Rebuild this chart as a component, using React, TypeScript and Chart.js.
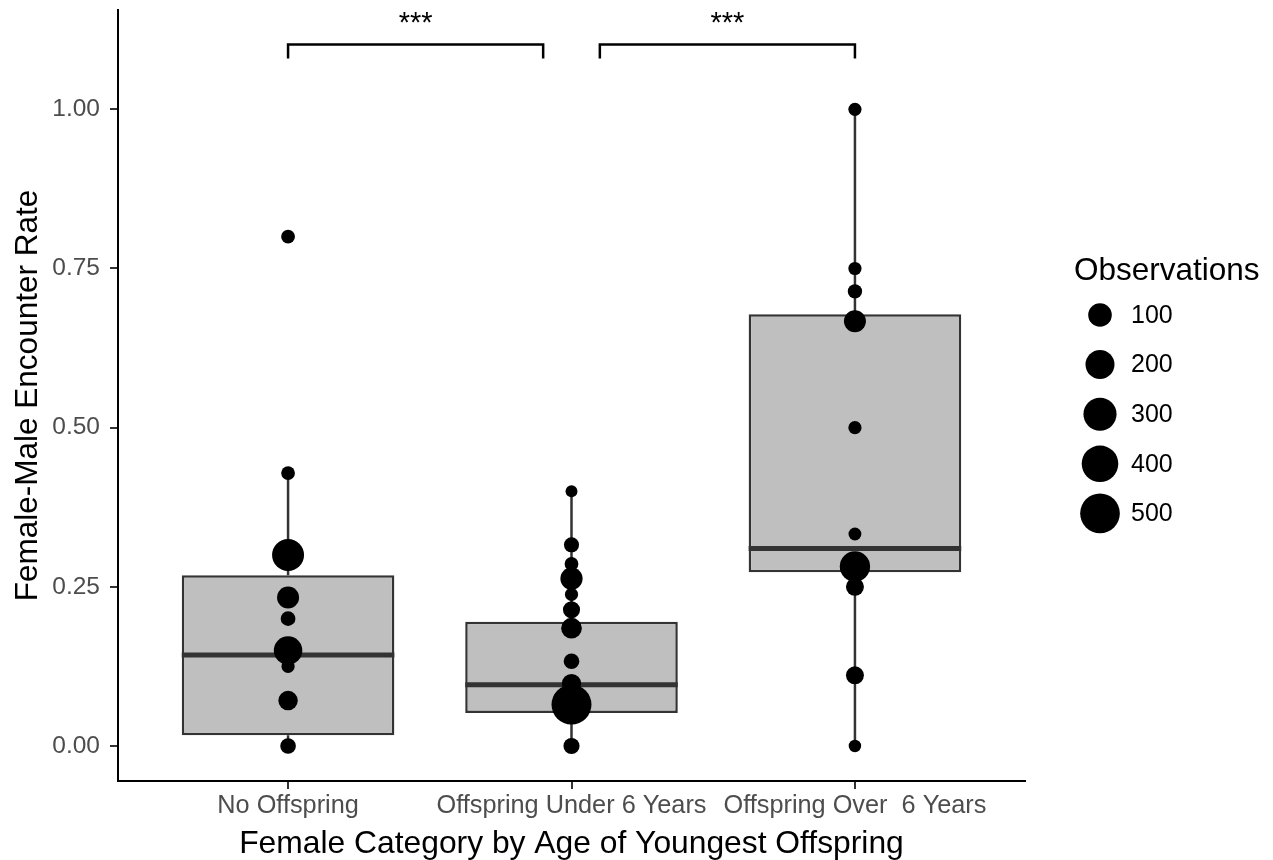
import React, { useEffect, useRef } from "react";
import { Chart, registerables } from "chart.js";

Chart.register(...registerables);

const FONT = '"Liberation Sans", Arial, Helvetica, sans-serif';

// ---- data ----
const categories = ["No Offspring", "Offspring Under 6 Years", "Offspring Over  6 Years"];
const yTicks = [0, 0.25, 0.5, 0.75, 1.0];

// box-plot statistics per category
const whiskerLow = [0, 0, 0];
const boxQ1 = [0.017, 0.052, 0.273];
const boxMedian = [0.143, 0.096, 0.31];
const boxQ3 = [0.268, 0.195, 0.678];
const whiskerHigh = [0.429, 0.4, 1.0];

// individual females: encounter rate and number of observations
const noOffspringRate = [0.8, 0.4286, 0.3, 0.2333, 0.2, 0.15, 0.125, 0.0714, 0];
const noOffspringObs = [6, 6, 270, 77, 10, 190, 4, 46, 15];
const under6Rate = [0.4, 0.316, 0.286, 0.263, 0.238, 0.214, 0.185, 0.133, 0.098, 0.065, 0];
const under6Obs = [1, 12, 6, 80, 4, 25, 60, 15, 45, 510, 18];
const over6Rate = [1.0, 0.75, 0.714, 0.667, 0.5, 0.333, 0.282, 0.25, 0.111, 0];
const over6Obs = [4, 4, 8, 77, 4, 3, 230, 32, 32, 2];

const legendBreaks = [100, 200, 300, 400, 500];

// significance brackets
const sigFrom = [1, 2.1];
const sigTo = [1.9, 3];
const sigLabels = ["***", "***"];
const sigBarY = 1.102;
const sigTickY = 1.08;
const sigLabelY = 1.121;

const radius = (n: number) => 5.3 + 0.65 * Math.sqrt(n);

export default function App() {
  const ref = useRef<HTMLCanvasElement | null>(null);

  useEffect(() => {
    if (!ref.current) return;

    const groups = [
      { rate: noOffspringRate, obs: noOffspringObs },
      { rate: under6Rate, obs: under6Obs },
      { rate: over6Rate, obs: over6Obs },
    ];
    const points: any[] = [];
    groups.forEach((g, gi) =>
      g.rate.forEach((v, i) => points.push({ x: gi + 1, y: v, r: radius(g.obs[i]) }))
    );

    const halfBox = 0.375;
    const medians: any[] = [];
    const whiskers: any[] = [];
    categories.forEach((_, i) => {
      const c = i + 1;
      medians.push({ x: c - halfBox, y: boxMedian[i] }, { x: c + halfBox, y: boxMedian[i] }, { x: c, y: null });
      whiskers.push({ x: c, y: whiskerLow[i] }, { x: c, y: boxQ1[i] }, { x: c, y: null });
      whiskers.push({ x: c, y: boxQ3[i] }, { x: c, y: whiskerHigh[i] }, { x: c, y: null });
    });
    const brackets: any[] = [];
    sigFrom.forEach((f, i) => {
      brackets.push(
        { x: f, y: sigTickY },
        { x: f, y: sigBarY },
        { x: sigTo[i], y: sigBarY },
        { x: sigTo[i], y: sigTickY },
        { x: sigTo[i], y: null }
      );
    });

    const overlay = {
      id: "overlay",
      afterDraw(chart: any) {
        const { ctx, chartArea, scales } = chart;
        const xs = scales.x;
        const ys = scales.y;
        ctx.save();
        ctx.fillStyle = "#000";
        ctx.font = `29px ${FONT}`;
        ctx.textAlign = "center";
        ctx.textBaseline = "alphabetic";
        sigFrom.forEach((f, i) => {
          ctx.fillText(sigLabels[i], xs.getPixelForValue((f + sigTo[i]) / 2), ys.getPixelForValue(sigLabelY));
        });
        // size legend
        ctx.textAlign = "left";
        ctx.textBaseline = "middle";
        ctx.font = `31.5px ${FONT}`;
        ctx.fillText("Observations", chartArea.right + 49, chartArea.top + 261);
        legendBreaks.forEach((b, i) => {
          const cy = chartArea.top + 305 + i * 49.6;
          ctx.beginPath();
          ctx.arc(chartArea.right + 75, cy, radius(b), 0, Math.PI * 2);
          ctx.fill();
          ctx.font = `25px ${FONT}`;
          ctx.fillText(String(b), chartArea.right + 106, cy + 1);
        });
        ctx.restore();
      },
    };

    const chart = new Chart(ref.current, {
      type: "bar",
      data: {
        datasets: [
          {
            type: "bubble",
            data: points,
            backgroundColor: "#000000",
            borderWidth: 0,
            order: 0,
          } as any,
          {
            type: "line",
            data: medians,
            borderColor: "#333333",
            borderWidth: 5,
            pointRadius: 0,
            spanGaps: false,
            fill: false,
            order: 1,
          } as any,
          {
            type: "line",
            data: whiskers,
            borderColor: "#333333",
            borderWidth: 2.5,
            pointRadius: 0,
            spanGaps: false,
            fill: false,
            order: 2,
          } as any,
          {
            type: "line",
            data: brackets,
            borderColor: "#000000",
            borderWidth: 2.5,
            pointRadius: 0,
            spanGaps: false,
            fill: false,
            order: 2,
          } as any,
          {
            type: "bar",
            data: categories.map((_, i) => ({ x: i + 1, y: [boxQ1[i], boxQ3[i]] })),
            backgroundColor: "#bfbfbf",
            borderColor: "#333333",
            borderWidth: 2.5,
            borderSkipped: false,
            categoryPercentage: 1,
            barPercentage: 0.75,
            order: 3,
          } as any,
        ],
      },
      options: {
        animation: false,
        responsive: false,
        devicePixelRatio: 1,
        events: [],
        layout: { autoPadding: false, padding: { left: 0, top: 10, right: 248, bottom: 0 } },
        plugins: { legend: { display: false }, tooltip: { enabled: false } },
        scales: {
          x: {
            type: "linear",
            min: 0.4,
            max: 3.6,
            offset: false,
            afterBuildTicks: (s: any) => {
              s.ticks = categories.map((_, i) => ({ value: i + 1 }));
            },
            afterFit: (s: any) => {
              s.height = 79;
            },
            ticks: {
              callback: (v: any) => categories[Math.round(v) - 1],
              autoSkip: false,
              maxRotation: 0,
              color: "#4d4d4d",
              font: { family: FONT, size: 25.3 },
              padding: 2,
            },
            grid: {
              display: true,
              drawOnChartArea: false,
              drawTicks: true,
              tickLength: 8,
              color: "#333333",
              lineWidth: 2,
              offset: false,
            },
            border: { display: true, color: "#000000", width: 2 },
            title: {
              display: true,
              text: "Female Category by Age of Youngest Offspring",
              color: "#000000",
              font: { family: FONT, size: 31.8, lineHeight: 1 },
              padding: { top: 0, bottom: 0 },
            },
          },
          y: {
            type: "linear",
            min: -0.055,
            max: 1.156,
            afterBuildTicks: (s: any) => {
              s.ticks = yTicks.map((v) => ({ value: v }));
            },
            afterFit: (s: any) => {
              s.width = 118;
              s.paddingTop = 0;
              s.paddingBottom = 0;
            },
            ticks: {
              callback: (v: any) => Number(v).toFixed(2),
              color: "#4d4d4d",
              font: { family: FONT, size: 24.5 },
              padding: 10,
            },
            grid: {
              display: true,
              drawOnChartArea: false,
              drawTicks: true,
              tickLength: 8,
              color: "#333333",
              lineWidth: 2,
            },
            border: { display: true, color: "#000000", width: 2 },
            title: {
              display: true,
              text: "Female-Male Encounter Rate",
              color: "#000000",
              font: { family: FONT, size: 31.5, lineHeight: 1 },
              padding: { top: 13, bottom: 0 },
            },
          },
        },
      } as any,
      plugins: [overlay as any],
    });

    return () => chart.destroy();
  }, []);

  return (
    <div style={{ position: "fixed", left: 0, top: 0, width: 1273, height: 860, background: "#fff" }}>
      <canvas ref={ref} width={1273} height={860} style={{ width: 1273, height: 860 }} />
    </div>
  );
}
